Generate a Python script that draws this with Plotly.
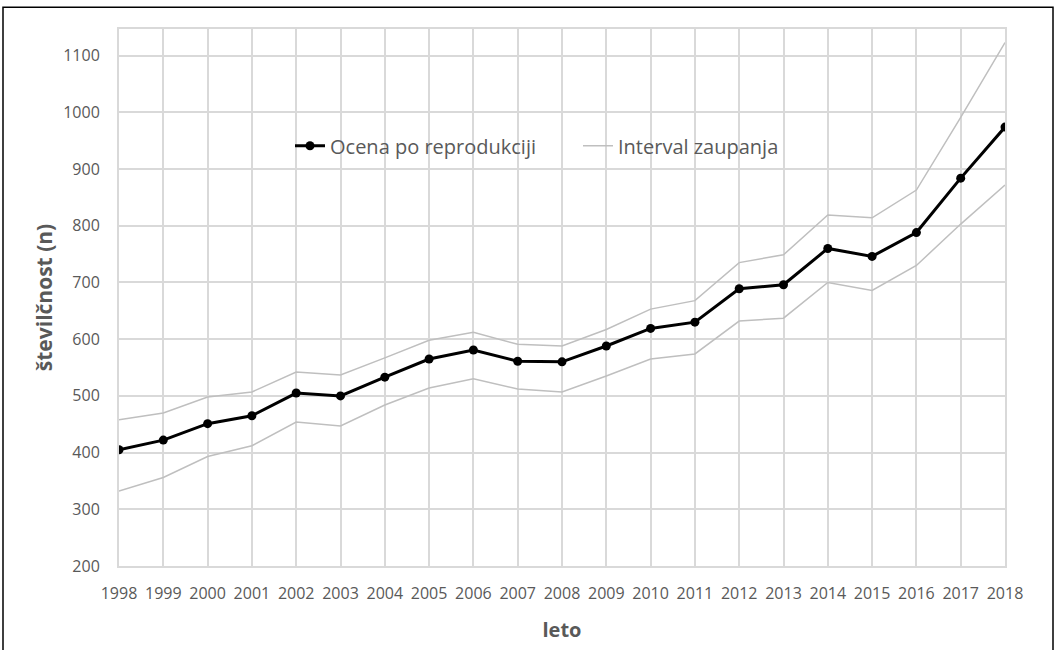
import plotly.graph_objects as go

years = list(range(1998, 2019))
ocena = [405, 422, 451, 465, 505, 500, 533, 565, 581, 561, 560, 588, 619, 630, 689, 696, 760, 746, 788, 884, 974]
zgornja = [458, 470, 498, 507, 542, 537, 567, 598, 612, 591, 588, 617, 653, 668, 735, 749, 819, 814, 863, 991, 1123]
spodnja = [332, 356, 393, 412, 454, 447, 484, 514, 530, 512, 507, 535, 565, 574, 632, 637, 700, 686, 730, 803, 872]
y_ticks = [200, 300, 400, 500, 600, 700, 800, 900, 1000, 1100]

font_family = "Open Sans, Noto Sans, sans-serif"
gray_text = "#595959"
grid_col = "#d9d9d9"
ci_col = "#bfbfbf"

fig = go.Figure()
fig.add_trace(go.Scatter(
    x=years, y=ocena, mode="lines+markers", name="Ocena po reprodukciji",
    line=dict(color="black", width=3), marker=dict(color="black", size=9),
))
fig.add_trace(go.Scatter(
    x=years, y=zgornja, mode="lines", name="Interval zaupanja",
    line=dict(color=ci_col, width=1.5), legendgroup="ci",
))
fig.add_trace(go.Scatter(
    x=years, y=spodnja, mode="lines", name="Interval zaupanja",
    line=dict(color=ci_col, width=1.5), legendgroup="ci", showlegend=False,
))

W, H = 1056, 650
L, T = 119, 29
R = W - 1005
B = 78
bottom_px = H - B
pw, ph = W - L - R, H - T - B

fig.update_layout(
    width=W, height=H,
    margin=dict(l=L, r=R, t=T, b=B),
    paper_bgcolor="white", plot_bgcolor="white",
    font=dict(family=font_family, color=gray_text, size=16),
    showlegend=True,
    legend=dict(
        orientation="h", x=(290 - L) / pw, y=(bottom_px - 147) / ph, xanchor="left", yanchor="middle",
        bgcolor="rgba(0,0,0,0)", font=dict(size=20, color=gray_text),
        entrywidth=243, entrywidthmode="pixels", itemwidth=30,
    ),
    xaxis=dict(
        range=[1998, 2018], tickmode="array", tickvals=years,
        ticktext=[str(y) for y in years],
        showgrid=True, gridcolor=grid_col, gridwidth=1.5,
        zeroline=False, showline=True, mirror=True, linecolor=grid_col, linewidth=2,
        ticks="", ticklabelstandoff=12, tickfont=dict(size=16, color=gray_text),
        title=dict(text="<b>leto</b>", font=dict(size=20, color=gray_text), standoff=20),
    ),
    yaxis=dict(
        range=[200, 1147], tickmode="array", tickvals=y_ticks,
        showgrid=True, gridcolor=grid_col, gridwidth=1.5,
        zeroline=False, showline=True, mirror=True, linecolor=grid_col, linewidth=2,
        ticks="", ticklabelstandoff=14, tickfont=dict(size=16, color=gray_text),
        title=dict(text="<b>številčnost (n)</b>", font=dict(size=21, color=gray_text), standoff=5),
    ),
)

# outer frame of the figure
fig.add_shape(type="rect", xref="paper", yref="paper",
              x0=(3 - L) / pw, x1=(1053 - L) / pw,
              y0=(bottom_px - 670) / ph, y1=(bottom_px - 7) / ph,
              line=dict(color="black", width=1.5), fillcolor="rgba(0,0,0,0)", layer="above")

fig.write_html(
    "out.html",
    config={"displayModeBar": False},
    post_script="document.body.style.margin='0';document.body.style.overflow='hidden';",
)
